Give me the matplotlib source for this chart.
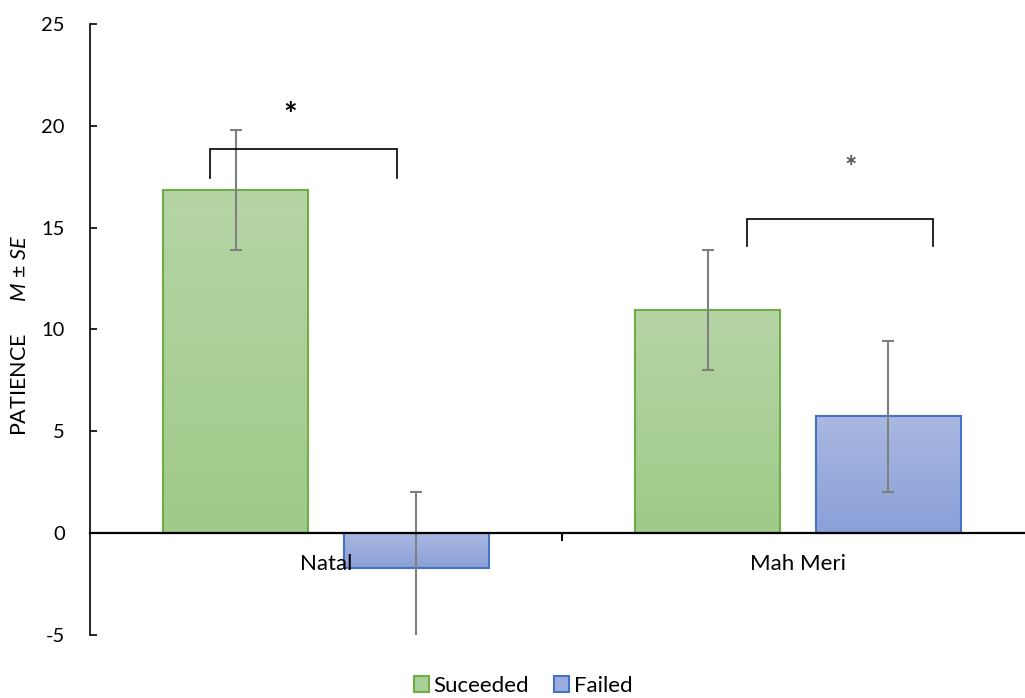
import numpy as np
import matplotlib
matplotlib.use("Agg")
import matplotlib.pyplot as plt
from matplotlib.patches import Patch

plt.rcParams['font.family'] = ['Lato', 'DejaVu Sans']
plt.rcParams['mathtext.fontset'] = 'custom'
plt.rcParams['mathtext.it'] = 'Lato:italic'
plt.rcParams['mathtext.rm'] = 'Lato'

# ---- data ----
categories = ["Natal", "Mah Meri"]
series_names = ["Suceeded", "Failed"]
succeeded = [16.85, 10.95]
succeeded_se = [2.95, 2.95]
failed = [-1.72, 5.74]
failed_se = [3.72, 3.70]
y_ticks = [-5, 0, 5, 10, 15, 20, 25]

# ---- styles ----
green_top, green_bot, green_edge = "#b5d5a5", "#9fca89", "#70ad47"
blue_top, blue_bot, blue_edge = "#aab8e1", "#8aa0d8", "#4472c4"
err_color = "#808080"

W, H = 1025, 698
fig = plt.figure(figsize=(W / 100, H / 100), dpi=100)
ax = fig.add_axes([90 / W, 1 - 635 / H, (1025 - 90) / W, 611 / H])

x = np.arange(len(categories))
bw = 0.307
off = 0.1915


def grad_bars(xs, vals, top, bot, edge):
    bars = ax.bar(xs, vals, width=bw, facecolor="none", edgecolor=edge,
                  linewidth=1.5, zorder=3)
    cmap = matplotlib.colors.LinearSegmentedColormap.from_list("g", [bot, top])
    for b in bars:
        x0, y0 = b.get_x(), b.get_y()
        w, h = b.get_width(), b.get_height()
        ylo, yhi = min(y0, y0 + h), max(y0, y0 + h)
        grad = np.linspace(0, 1, 256).reshape(-1, 1)
        im = ax.imshow(grad, cmap=cmap, extent=[x0, x0 + w, ylo, yhi],
                       origin="lower", aspect="auto", zorder=2,
                       interpolation="bilinear")
        im.set_clip_path(b)
    return bars


grad_bars(x - off, succeeded, green_top, green_bot, green_edge)
grad_bars(x + off, failed, blue_top, blue_bot, blue_edge)
ax.set_xlim(-0.5, 1.481)
ax.set_ylim(-5, 25)

ax.errorbar(x - off, succeeded, yerr=succeeded_se, fmt="none", ecolor=err_color,
            elinewidth=1.5, capsize=4.3, capthick=1.5, zorder=4)
ax.errorbar(x + off, failed, yerr=failed_se, fmt="none", ecolor=err_color,
            elinewidth=1.5, capsize=4.3, capthick=1.5, zorder=4)

# significance brackets
def bracket(xl, xr, ytop, ybot):
    ax.plot([xl, xl, xr, xr], [ybot, ytop, ytop, ybot], color="black",
            lw=1.2, zorder=5, solid_joinstyle="miter")

bracket(-0.246, 0.150, 18.85, 17.45)
bracket(0.892, 1.286, 15.41, 14.09)
ax.text(-0.076, 20.45, "*", ha="center", va="center", fontsize=23,
        fontweight="bold", color="black")
ax.text(1.112, 17.95, "*", ha="center", va="center", fontsize=21,
        fontweight="bold", color="#555555")

# axes styling
for s in ["top", "right"]:
    ax.spines[s].set_visible(False)
ax.spines["bottom"].set_position(("data", 0))
ax.spines["bottom"].set_linewidth(1.6)
ax.spines["bottom"].set_zorder(6)
ax.spines["left"].set_linewidth(1.2)
ax.xaxis.set_zorder(7)

ax.set_yticks(y_ticks)
ax.set_yticklabels([str(t) for t in y_ticks])
ax.tick_params(axis="y", direction="in", length=5, width=1.2, pad=18,
               labelsize=14.5)

ax.set_xticks(x)
ax.set_xticklabels(categories)
ax.tick_params(axis="x", which="major", length=0, pad=15, labelsize=16)
ax.set_xticks([0.5], minor=True)
ax.tick_params(axis="x", which="minor", direction="out", length=6, width=1.5)

ax.set_ylabel(r"PATIENCE      $M$ ± $SE$", fontsize=15.5)
ax.yaxis.set_label_coords(-60 / 935, 0.49)

handles = [Patch(facecolor="#aad09a", edgecolor=green_edge, linewidth=1.5),
           Patch(facecolor="#9badde", edgecolor=blue_edge, linewidth=1.5)]
fig.legend(handles, series_names, loc="center", bbox_to_anchor=(523 / W, 1 - 686 / H),
           ncol=2, frameon=False, fontsize=16, handlelength=0.7,
           handleheight=0.7, handletextpad=0.2, columnspacing=1.1,
           borderpad=0)

fig.savefig("out.png", dpi=100)
